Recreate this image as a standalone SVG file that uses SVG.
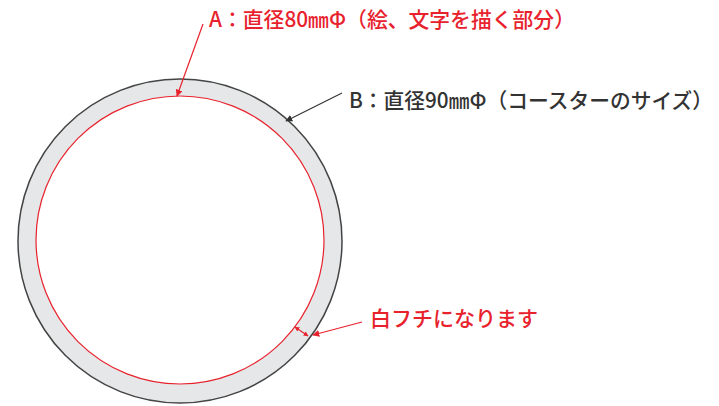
<svg xmlns="http://www.w3.org/2000/svg" width="719" height="406" viewBox="0 0 719 406">
<style>
.t{font-family:"Noto Sans CJK JP","Noto Sans",sans-serif;font-size:21px;font-weight:500}
.red{fill:#e8222d}
.dark{fill:#333333}
.lr{stroke:#e8222d;stroke-width:1.2;fill:none}
.lk{stroke:#333333;stroke-width:1.2;fill:none}
</style>
<defs>
<marker id="ar" viewBox="0 0 10 10" refX="9" refY="5" markerWidth="7" markerHeight="7" orient="auto-start-reverse" markerUnits="userSpaceOnUse"><path d="M0,0 L10,5 L0,10 z" fill="#e8222d"/></marker>
<marker id="ak" viewBox="0 0 10 10" refX="9" refY="5" markerWidth="7" markerHeight="7" orient="auto" markerUnits="userSpaceOnUse"><path d="M0,0 L10,5 L0,10 z" fill="#333333"/></marker>
<marker id="as" viewBox="0 0 10 10" refX="9" refY="5" markerWidth="5" markerHeight="5" orient="auto-start-reverse" markerUnits="userSpaceOnUse"><path d="M0,0 L10,5 L0,10 z" fill="#e8222d"/></marker>
</defs>
<g id="coaster">
<circle cx="180" cy="241" r="162" fill="#e6e7e8" stroke="#444444" stroke-width="1.5"/>
<circle cx="180" cy="240" r="144" fill="#ffffff" stroke="#e8222d" stroke-width="1.2"/>
</g>
<g id="label-a"><text class="t red" x="209" y="27" textLength="366" lengthAdjust="spacingAndGlyphs">A：直径80㎜Φ（絵、文字を描く部分）</text></g>
<g id="label-b"><text class="t dark" x="349" y="108" textLength="364" lengthAdjust="spacingAndGlyphs">B：直径90㎜Φ（コースターのサイズ）</text></g>
<g id="label-c"><text class="t red" x="370" y="326" textLength="168" lengthAdjust="spacingAndGlyphs">白フチになります</text></g>
<g id="connectors">
<line class="lr" x1="203" y1="24" x2="177" y2="96" marker-end="url(#ar)"/>
<line class="lk" x1="342" y1="93" x2="286" y2="121" marker-end="url(#ak)"/>
<line class="lr" x1="362" y1="322" x2="313" y2="335" marker-end="url(#ar)"/>
<line class="lr" x1="295" y1="327" x2="308" y2="336" marker-start="url(#as)" marker-end="url(#as)"/>
</g>
</svg>
